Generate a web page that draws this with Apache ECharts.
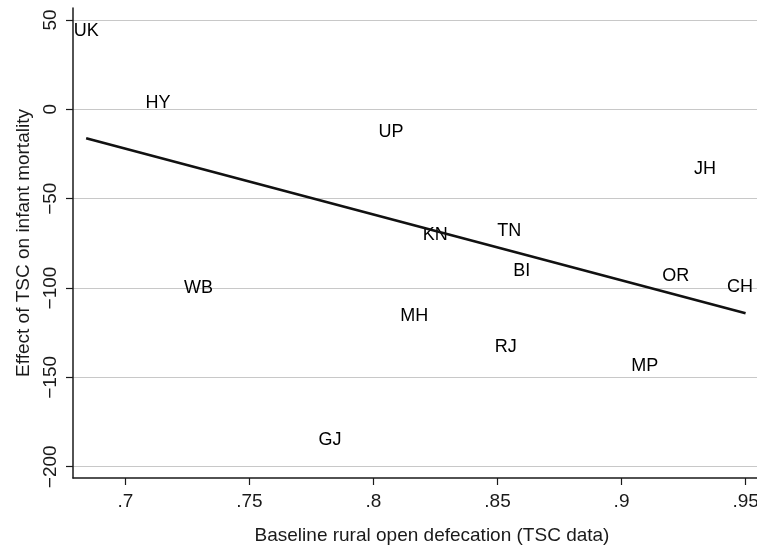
<!DOCTYPE html>
<html>
<head>
<meta charset="utf-8">
<script src="https://cdn.jsdelivr.net/npm/echarts@6/dist/echarts.min.js"></script>
<style>
html,body{margin:0;padding:0;background:#fff;}
#chart{width:757px;height:546px;}
</style>
</head>
<body>
<div id="chart"></div>
<script>
// State labels
const states = ['UK','HY','UP','JH','KN','TN','BI','OR','CH','WB','MH','RJ','MP','GJ'];
// Baseline rural open defecation (x)
const baseline = [0.6842,0.7132,0.8071,0.9336,0.8249,0.8547,0.8598,0.9219,0.9477,0.7295,0.8164,0.8533,0.9094,0.7825];
// Effect of TSC on infant mortality (y)
const effect = [43.6,3.6,-12.9,-33.6,-70.5,-68.0,-90.7,-93.2,-99.4,-99.9,-115.4,-133.2,-143.8,-184.9];
// Fitted line endpoints
const fitX = [0.6842,0.9500];
const fitY = [-16.2,-114.1];
// Ticks
const xTicks = [0.7,0.75,0.8,0.85,0.9,0.95];
const xTickLabels = ['.7','.75','.8','.85','.9','.95'];
const yTicks = [-200,-150,-100,-50,0,50];
const yTickLabels = ['\u2212200','\u2212150','\u2212100','\u221250','0','50'];

const FONT = "'Liberation Sans', Arial, sans-serif";
const chart = echarts.init(document.getElementById('chart'), null, {renderer:'canvas'});

const option = {
  backgroundColor:'#fff',
  animation:false,
  grid:{left:73, right:0, top:8, bottom:68, containLabel:false, outerBoundsMode:'none'},
  xAxis:{
    type:'value', min:0.6789, max:0.9546,
    name:'Baseline rural open defecation (TSC data)',
    nameLocation:'middle', nameGap:48,
    nameTextStyle:{fontFamily:FONT, fontSize:19, color:'#1a1a1a', padding:[0,0,0,34]},
    axisLine:{show:true, onZero:false, lineStyle:{color:'#1a1a1a', width:1.5}},
    axisTick:{show:true, length:7, customValues:xTicks, lineStyle:{color:'#1a1a1a', width:1.2}},
    axisLabel:{customValues:xTicks, margin:14, fontFamily:FONT, fontSize:19, color:'#1a1a1a',
      formatter:function(v){const i=xTicks.findIndex(t=>Math.abs(t-v)<1e-6);return i>=0?xTickLabels[i]:'';}},
    splitLine:{show:false}
  },
  yAxis:{
    type:'value', min:-206.3, max:56.7,
    name:'Effect of TSC on infant mortality',
    nameLocation:'middle', nameGap:40,
    nameTextStyle:{fontFamily:FONT, fontSize:19, color:'#1a1a1a'},
    axisLine:{show:true, onZero:false, lineStyle:{color:'#1a1a1a', width:1.5}},
    axisTick:{show:true, length:7, customValues:yTicks, lineStyle:{color:'#1a1a1a', width:1.2}},
    axisLabel:{customValues:yTicks, rotate:90, margin:13, fontFamily:FONT, fontSize:19, color:'#1a1a1a',
      formatter:function(v){const i=yTicks.findIndex(t=>Math.abs(t-v)<1e-6);return i>=0?yTickLabels[i]:'';}},
    splitLine:{show:true, lineStyle:{color:'#c8c8c8', width:1.2}}
  },
  series:[
    {
      type:'scatter',
      symbolSize:0,
      data: states.map((s,i)=>({name:s, value:[baseline[i], effect[i]]})),
      label:{show:true, position:'inside', formatter:'{b}',
        fontFamily:FONT, fontSize:18, color:'#000', textBorderWidth:0, opacity:1},
      itemStyle:{color:'rgba(0,0,0,0)'},
      emphasis:{disabled:true},
      z:3
    },
    {
      type:'line',
      data: fitX.map((x,i)=>[x, fitY[i]]),
      symbol:'none',
      lineStyle:{color:'#111', width:2.6},
      z:4
    }
  ]
};
chart.setOption(option);
</script>
</body>
</html>
